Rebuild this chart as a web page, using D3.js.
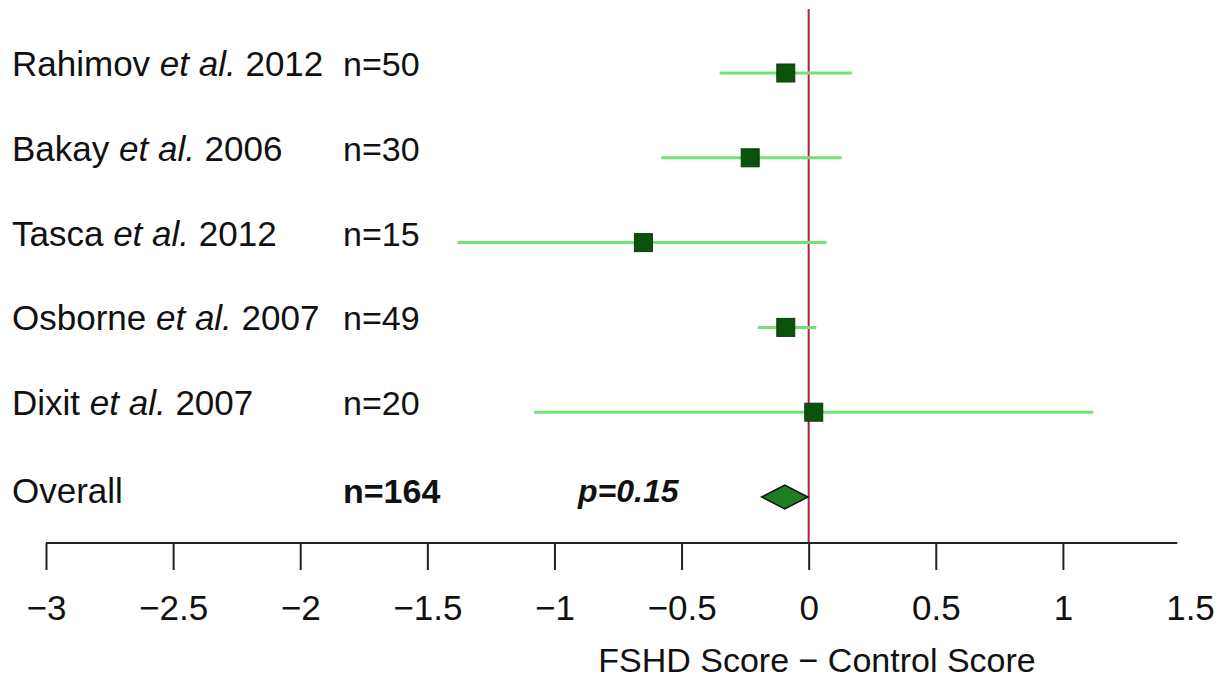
<!DOCTYPE html>
<html>
<head>
<meta charset="utf-8">
<script src="https://cdn.jsdelivr.net/npm/d3@7"></script>
<style>
  body { margin: 0; background: #fff; }
  svg { font-family: "Liberation Sans", Arial, sans-serif; }
</style>
</head>
<body>
<div id="forest"></div>
<script>
// study data
var authors = ["Rahimov", "Bakay", "Tasca", "Osborne", "Dixit"];
var years = ["2012", "2006", "2012", "2007", "2007"];
var sizes = [50, 30, 15, 49, 20];
var estimates = [-0.09, -0.23, -0.65, -0.09, 0.02];
var lower = [-0.35, -0.58, -1.38, -0.20, -1.08];
var upper = [0.17, 0.13, 0.07, 0.03, 1.12];

// pooled result
var overallN = 164;
var overallEst = -0.094;
var overallLow = -0.185;
var overallHigh = -0.003;
var pValue = "0.15";

var tickValues = [-3, -2.5, -2, -1.5, -1, -0.5, 0, 0.5, 1, 1.5];
var axisEnd = 1.45;

var svgWidth = 1218;
var svgHeight = 687;

var svg = d3.select("#forest")
  .append("svg")
  .attr("width", svgWidth)
  .attr("height", svgHeight);

var rows = authors.concat(["Overall"]);

var x = d3.scaleLinear()
  .domain([-3, 1.5])
  .range([46, 1190]);

var y = d3.scalePoint()
  .domain(rows)
  .range([73, 497]);

var axisY = 543;

// zero reference line
svg.append("line")
  .attr("x1", x(0)).attr("x2", x(0))
  .attr("y1", 9).attr("y2", axisY)
  .attr("stroke", "#b3203f")
  .attr("stroke-width", 2);

var studies = authors.map(function(a, i) {
  return { author: a, year: years[i], n: sizes[i], est: estimates[i], lo: lower[i], hi: upper[i] };
});

// confidence intervals
svg.selectAll(".ci")
  .data(studies)
  .enter()
  .append("line")
  .attr("class", "ci")
  .attr("x1", d => x(d.lo))
  .attr("x2", d => x(d.hi))
  .attr("y1", d => y(d.author))
  .attr("y2", d => y(d.author))
  .attr("stroke", "#6fe36f")
  .attr("stroke-width", 3);

var sq = 18;
svg.selectAll(".est")
  .data(studies)
  .enter()
  .append("rect")
  .attr("class", "est")
  .attr("x", d => x(d.est) - sq / 2)
  .attr("y", d => y(d.author) - sq / 2)
  .attr("width", sq)
  .attr("height", sq)
  .attr("fill", "#0b520f")
  .attr("stroke", "#083d0a")
  .attr("stroke-width", 1);

// overall diamond
var dy = 12;
var oy = y("Overall");
svg.append("path")
  .attr("d", "M" + x(overallLow) + "," + oy +
    "L" + x(overallEst) + "," + (oy - dy) +
    "L" + x(overallHigh) + "," + oy +
    "L" + x(overallEst) + "," + (oy + dy) + "Z")
  .attr("fill", "#1e7d1e")
  .attr("stroke", "#111")
  .attr("stroke-width", 1.5);

// left labels
var fs = 34;
var labels = svg.selectAll(".label")
  .data(studies)
  .enter()
  .append("text")
  .attr("class", "label")
  .attr("x", 12)
  .attr("y", d => y(d.author) + 3)
  .style("font-size", "35px")
  .attr("fill", "#111");
labels.append("tspan").text(d => d.author + " ");
labels.append("tspan").style("font-style", "italic").text("et al.");
labels.append("tspan").text(d => " " + d.year);

svg.selectAll(".nlab")
  .data(studies)
  .enter()
  .append("text")
  .attr("class", "nlab")
  .attr("x", 343)
  .attr("y", d => y(d.author) + 3)
  .style("font-size", fs + "px")
  .attr("fill", "#111")
  .text(d => "n=" + d.n);

svg.append("text")
  .attr("x", 12)
  .attr("y", oy + 6)
  .style("font-size", "35px")
  .attr("fill", "#111")
  .text("Overall");

svg.append("text")
  .attr("x", 343)
  .attr("y", oy + 6)
  .style("font-size", fs + "px")
  .style("font-weight", "bold")
  .attr("fill", "#111")
  .text("n=" + overallN);

svg.append("text")
  .attr("x", 578)
  .attr("y", oy + 5)
  .style("font-size", "32px")
  .style("font-weight", "bold")
  .style("font-style", "italic")
  .attr("fill", "#111")
  .text("p=" + pValue);

// x axis
var xAxis = d3.axisBottom(x)
  .tickValues(tickValues)
  .tickSize(27)
  .tickPadding(25)
  .tickFormat(d3.format(""));

var gx = svg.append("g")
  .attr("transform", "translate(0," + axisY + ")")
  .call(xAxis);

gx.select(".domain").remove();
gx.append("line")
  .attr("x1", x(-3)).attr("x2", x(axisEnd))
  .attr("y1", 0).attr("y2", 0)
  .attr("stroke", "#222")
  .attr("stroke-width", 2);
gx.selectAll(".tick line")
  .attr("stroke", "#222")
  .attr("stroke-width", 2)
  .filter(d => d > axisEnd)
  .remove();
gx.selectAll(".tick text")
  .style("font-size", "35px")
  .style("font-family", "'Liberation Sans', Arial, sans-serif")
  .attr("fill", "#111");

svg.append("text")
  .attr("x", 817)
  .attr("y", 672)
  .attr("text-anchor", "middle")
  .style("font-size", "34px")
  .attr("fill", "#111")
  .text("FSHD Score \u2212 Control Score");
</script>
</body>
</html>
